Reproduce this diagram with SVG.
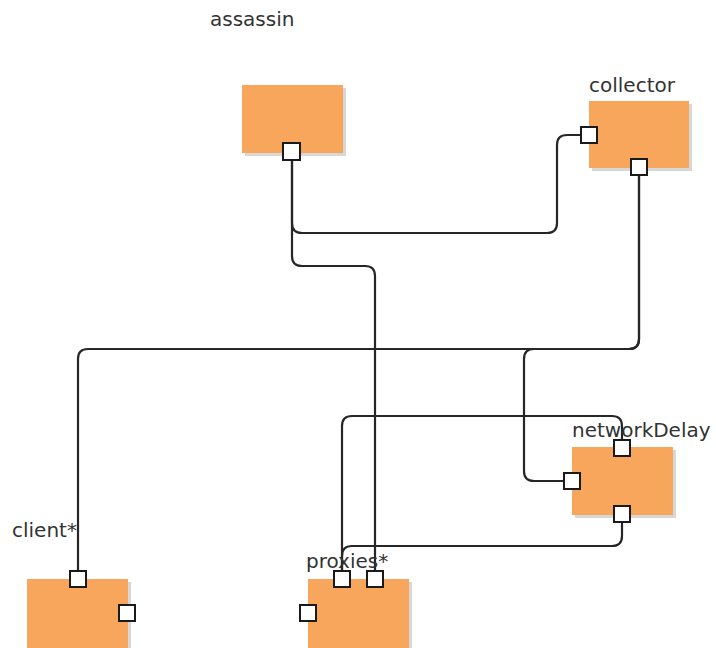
<svg xmlns="http://www.w3.org/2000/svg" width="716" height="648" viewBox="0 0 716 648">
<defs>
<style>
.box{fill:#F7A65B;}
.shadow{fill:#9a9a9a;opacity:0.4;}
.port{fill:#ffffff;stroke:#1a1a1a;stroke-width:2;}
.conn{fill:none;stroke:#262626;stroke-width:2.2;}
.label{font-family:"DejaVu Sans",sans-serif;font-size:20px;fill:#333333;}
</style>
</defs>
<rect width="716" height="648" fill="#ffffff"/>
<g id="connectors">
<path class="conn" d="M292,160 V223 Q292,233 302,233 H547 Q557,233 557,223 V145 Q557,135 567,135 H581"/>
<path class="conn" d="M292,160 V256 Q292,266 302,266 H365 Q375,266 375,276 V571"/>
<path class="conn" d="M78,571 V359 Q78,349 88,349 H629 Q639,349 639,339 V175"/>
<path class="conn" d="M639,175 V339 Q639,349 629,349 H534 Q524,349 524,359 V471 Q524,481 534,481 H564"/>
<path class="conn" d="M622,440 V426 Q622,416 612,416 H352 Q342,416 342,426 V571"/>
<path class="conn" d="M622,522 V536 Q622,546 612,546 H352 Q342,546 342,556 V571"/>
</g>
<g id="assassin">
<rect class="shadow" x="245" y="88" width="101" height="68"/>
<rect class="box" x="242" y="85" width="101" height="68"/>
<text class="label" x="210" y="26">assassin</text>
<rect class="port" x="283" y="143" width="17" height="17"/>
</g>
<g id="collector">
<rect class="shadow" x="592" y="104" width="100" height="67"/>
<rect class="box" x="589" y="101" width="100" height="67"/>
<text class="label" x="589" y="92">collector</text>
<rect class="port" x="581" y="127" width="16" height="16"/>
<rect class="port" x="631" y="159" width="16" height="16"/>
</g>
<g id="networkDelay">
<rect class="shadow" x="575" y="450" width="101" height="68"/>
<rect class="box" x="572" y="447" width="101" height="68"/>
<text class="label" x="572" y="437">networkDelay</text>
<rect class="port" x="614" y="440" width="16" height="16"/>
<rect class="port" x="564" y="473" width="16" height="16"/>
<rect class="port" x="614" y="506" width="16" height="16"/>
</g>
<g id="client">
<rect class="shadow" x="30" y="582" width="101" height="70"/>
<rect class="box" x="27" y="579" width="101" height="70"/>
<text class="label" x="12" y="537">client*</text>
<rect class="port" x="70" y="571" width="16" height="16"/>
<rect class="port" x="119" y="605" width="16" height="16"/>
</g>
<g id="proxies">
<rect class="shadow" x="311" y="582" width="101" height="70"/>
<rect class="box" x="308" y="579" width="101" height="70"/>
<text class="label" x="306" y="568">proxies*</text>
<rect class="port" x="334" y="571" width="16" height="16"/>
<rect class="port" x="367" y="571" width="16" height="16"/>
<rect class="port" x="300" y="605" width="16" height="16"/>
</g>
</svg>
